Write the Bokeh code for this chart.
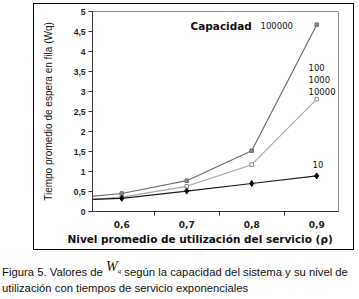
from bokeh.plotting import figure
from bokeh.layouts import column
from bokeh.models import (Label, FixedTicker, CustomJSTickFormatter, Range1d, Title, Div, InlineStyleSheet)
from bokeh.embed import file_html
from bokeh.resources import INLINE

# data
rho = [0.5, 0.6, 0.7, 0.8, 0.9]
wq_100000 = [0.29, 0.45, 0.77, 1.52, 4.67]
wq_100_1000_10000 = [0.24, 0.36, 0.63, 1.17, 2.81]
wq_10 = [0.27, 0.33, 0.51, 0.70, 0.89]
x_ticks = [0.6, 0.7, 0.8, 0.9]
x_minor = [0.65, 0.75, 0.85]
y_ticks = [0, 0.5, 1, 1.5, 2, 2.5, 3, 3.5, 4, 4.5, 5]
x_title = "Nivel promedio de utilización del servicio (ρ)"
y_title = "Tiempo promedio de espera en fila (Wq)"

X0, X1 = 0.555, 0.9335
p = figure(width=321, height=247, output_backend="svg", toolbar_location=None,
           x_range=Range1d(X0, X1), y_range=Range1d(0, 5),
           min_border_left=59, min_border_right=16, min_border_top=8, min_border_bottom=39)
p.margin = (3, 0, 0, 33)
p.stylesheets = [InlineStyleSheet(css=(
    ":host { position: relative; }"
    ":host::after { content: ''; position: absolute; left: 0; top: 0; right: 0; bottom: 0;"
    " border: 1px solid #000; pointer-events: none; z-index: 10; }"))]
p.grid.visible = False
p.background_fill_color = "white"
p.border_fill_color = "white"
p.outline_line_color = "#8c8c8c"
p.outline_line_width = 1

# axes
xa = p.xaxis[0]
xa.ticker = FixedTicker(ticks=x_ticks, minor_ticks=x_minor)
xa.formatter = CustomJSTickFormatter(code="return tick.toFixed(1).replace('.', ',');")
xa.major_tick_out = 0
xa.major_tick_in = 0
xa.minor_tick_out = 4
xa.minor_tick_in = 0
xa.axis_line_color = "#333333"
xa.minor_tick_line_color = "#333333"
xa.major_label_text_font = "DejaVu Sans"
xa.major_label_text_font_style = "bold"
xa.major_label_text_font_size = "9px"
xa.major_label_text_color = "#222222"
xa.major_label_standoff = 5

p.add_layout(Title(text=x_title, align="left", offset=-25, text_font="DejaVu Sans",
                   text_font_style="bold", text_font_size="10.5px", text_color="#111111",
                   standoff=0), "below")

ya = p.yaxis[0]
ya.ticker = FixedTicker(ticks=y_ticks)
ya.formatter = CustomJSTickFormatter(code="return tick.toString().replace('.', ',');")
ya.major_tick_out = 4
ya.major_tick_in = 0
ya.minor_tick_out = 0
ya.minor_tick_in = 0
ya.axis_line_color = "#333333"
ya.major_tick_line_color = "#333333"
ya.major_label_text_font = "Liberation Sans"
ya.major_label_text_font_style = "bold"
ya.major_label_text_font_size = "8.5px"
ya.major_label_text_color = "#222222"
ya.major_label_standoff = 3
ya.axis_label = y_title
ya.axis_label_text_font = "Liberation Sans"
ya.axis_label_text_font_style = "normal"
ya.axis_label_text_font_size = "10px"
ya.axis_label_text_color = "#111111"
ya.axis_label_standoff = 17

# series
p.line(rho, wq_100000, line_color="#6e6e6e", line_width=1.2)
p.scatter(rho, wq_100000, marker="square", size=3.5, fill_color="#8a8a8a", line_color="#6e6e6e")
p.line(rho, wq_100_1000_10000, line_color="#a6a6a6", line_width=1.2)
p.scatter(rho, wq_100_1000_10000, marker="square", size=3.5, fill_color="white", line_color="#8a8a8a")
p.line(rho, wq_10, line_color="#1a1a1a", line_width=1.2)
p.scatter(rho, wq_10, marker="diamond", size=6, fill_color="black", line_color="black")

# pixel (page) -> data helpers; frame on page: x 92..338, y 11..211
def dx(px):
    return X0 + (px - 92) * (X1 - X0) / 246.0

def dy(py):
    return (211 - py) * 5 / 200.0

def lab(px, py, t, size, bold=False, font="DejaVu Sans"):
    p.add_layout(Label(x=dx(px), y=dy(py), text=t, text_font=font, text_font_size=size,
                       text_font_style="bold" if bold else "normal",
                       text_color="#111111", text_baseline="middle", text_align="left"))

lab(190, 25, "Capacidad", "10.5px", bold=True)
lab(260, 25, "100000", "8.5px")
lab(308, 67, "100", "8.5px")
lab(308, 79, "1000", "8.5px")
lab(308, 90.5, "10000", "8.5px")
lab(312, 164, "10", "8.5px")

caption_html = (
    "<div style=\"font-family:'Liberation Sans',Arial,sans-serif;font-size:11.3px;color:#111;"
    "line-height:14px;white-space:nowrap;padding:15px 0 0 2px;\">"
    "Figura 5. Valores de "
    "<span style=\"font-family:'Liberation Serif',serif;font-style:italic;font-size:14px;"
    "position:relative;top:-5px;\">W</span>"
    "<span style=\"font-family:'Liberation Serif',serif;font-style:italic;font-size:7px;"
    "position:relative;top:-3px;\">q</span> "
    "según la capacidad del sistema y su nivel de<br>"
    "utilización con tiempos de servicio exponenciales</div>"
)
cap = Div(text=caption_html, width=359, height=49, margin=(0, 0, 0, 0))

layout = column(p, cap, spacing=0)
open("out.html", "w").write(file_html(layout, INLINE))
